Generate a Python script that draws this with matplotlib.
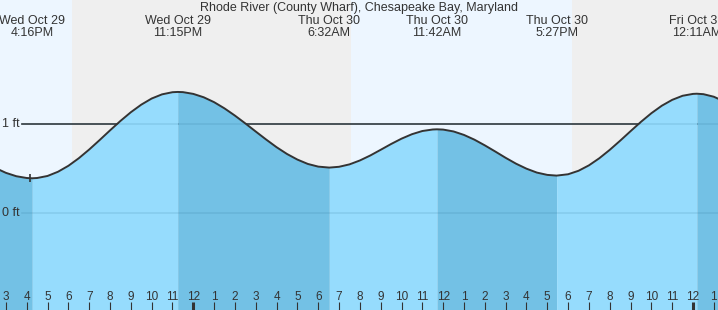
# Tide chart: Rhode River (County Wharf), Chesapeake Bay, Maryland
# Hours are counted from midnight Wed Oct 29 / Thu Oct 30

import numpy as np
import matplotlib.pyplot as plt

plt.rcParams['font.family'] = ['Liberation Sans', 'DejaVu Sans']

title = "Rhode River (County Wharf), Chesapeake Bay, Maryland"

# tide height (ft), every half hour plus the turning points
tide_hours = [-10, -9.5, -9, -8.5, -8, -7.733, -7.5, -7, -6.5, -6, -5.5, -5, -4.5, -4, -3.5, -3,
              -2.5, -2, -1.5, -1, -0.75, -0.5, 0, 0.5, 1, 1.5, 2, 2.5, 3, 3.5, 4, 4.5, 5, 5.5,
              6, 6.533, 7, 7.5, 8, 8.5, 9, 9.5, 10, 10.5, 11, 11.5, 11.7, 12, 12.5, 13, 13.5,
              14, 14.5, 15, 15.5, 16, 16.5, 17, 17.45, 18, 18.5, 19, 19.5, 20, 20.5, 21, 21.5,
              22, 22.5, 23, 23.5, 24, 24.183, 24.5, 25, 25.5, 26]
tide_ft = [0.572, 0.505, 0.451, 0.413, 0.393, 0.39, 0.393, 0.416, 0.463, 0.530, 0.615, 0.713,
           0.819, 0.928, 1.034, 1.132, 1.217, 1.286, 1.333, 1.357, 1.36, 1.358, 1.338, 1.300,
           1.245, 1.175, 1.094, 1.006, 0.915, 0.825, 0.739, 0.663, 0.600, 0.551, 0.521, 0.51,
           0.519, 0.546, 0.590, 0.646, 0.710, 0.775, 0.835, 0.885, 0.921, 0.938, 0.94, 0.937,
           0.916, 0.877, 0.824, 0.760, 0.691, 0.620, 0.554, 0.498, 0.454, 0.428, 0.42, 0.435,
           0.474, 0.535, 0.615, 0.709, 0.812, 0.919, 1.024, 1.121, 1.205, 1.271, 1.317, 1.338,
           1.34, 1.335, 1.306, 1.253, 1.179]

# highs and lows shown along the top
extreme_hours = [-7.733, -0.75, 6.533, 11.7, 17.45, 24.183]
extreme_days = ["Wed Oct 29", "Wed Oct 29", "Thu Oct 30", "Thu Oct 30", "Thu Oct 30", "Fri Oct 31"]
extreme_times = ["4:16PM", "11:15PM", "6:32AM", "11:42AM", "5:27PM", "12:11AM"]

# sunset / sunrise / sunset
sun_hours = [-5.82, 7.55, 18.17]
now_hour = -7.84
now_ft = 0.39

x_min, x_max = -9.284, 25.20
y_min, y_max = -1.09, 2.393

day_col = "#edf6ff"
night_col = "#efefef"
rise_col = "#96dcfd"
fall_col = "#73c1e5"
text_col = "#333333"

fig = plt.figure(figsize=(7.18, 3.10), dpi=100)
ax = fig.add_axes([0, 0, 1, 1])
ax.set_xlim(x_min, x_max)
ax.set_ylim(y_min, y_max)
ax.axis("off")

# day / night background
edges = [x_min] + sun_hours + [x_max]
for i in range(len(edges) - 1):
    col = day_col if i % 2 == 0 else night_col
    ax.axvspan(edges[i], edges[i + 1], color=col, lw=0, zorder=0)

# 1 ft reference line (hidden behind the water)
ax.plot([-8.23, x_max], [1, 1], color=text_col, lw=1.2, zorder=1)

# water, split at the turning points: rising light, falling dark
t = np.array(tide_hours)
h = np.array(tide_ft)
bounds = [t[0]] + extreme_hours + [t[-1]]
for i in range(len(bounds) - 1):
    m = (t >= bounds[i]) & (t <= bounds[i + 1])
    col = rise_col if h[m][-1] > h[m][0] else fall_col
    ax.fill_between(t[m], h[m], y_min, color=col, lw=0, zorder=2)

# faint grid lines over the water
for lev in [0, 1]:
    ax.plot([-8.23, x_max], [lev, lev], color="#2a6f94", alpha=0.15, lw=1.2, zorder=3)

ax.plot(t, h, color=text_col, lw=1.4, zorder=4, solid_capstyle="round")
ax.plot([now_hour], [now_ft], marker="|", ms=6, mew=1.2, color=text_col, zorder=5)

# left labels
for lev in [0, 1]:
    ax.text(2 / 718, lev, f"{lev} ft", transform=ax.get_yaxis_transform(), ha="left",
            va="center", fontsize=9, color=text_col, zorder=6)

# title and turning point labels
tr = ax.get_xaxis_transform()
ax.text((x_min + x_max) / 2, 1 - 11 / 310, title, transform=tr, ha="center",
        va="baseline", fontsize=9, color=text_col, zorder=6)
for xh, d, tm in zip(extreme_hours, extreme_days, extreme_times):
    ax.text(xh, 1 - 24 / 310, d, transform=tr, ha="center", va="baseline",
            fontsize=9, color=text_col, zorder=6)
    ax.text(xh, 1 - 36 / 310, tm, transform=tr, ha="center", va="baseline",
            fontsize=9, color=text_col, zorder=6)

# hour ticks along the bottom
for hr in range(int(np.ceil(x_min)), int(np.floor(x_max)) + 1):
    lab = hr % 12
    if lab == 0:
        lab = 12
    ax.text(hr, 10 / 310, str(lab), transform=tr, ha="center", va="baseline",
            fontsize=8.5, color=text_col, zorder=6)
    lw = 2.2 if hr % 24 == 0 else 0.8
    ax.plot([hr, hr], [0, 8 / 310], transform=tr, color=text_col, lw=lw, zorder=6,
            solid_capstyle="butt")

plt.savefig("out.png", dpi=100)
